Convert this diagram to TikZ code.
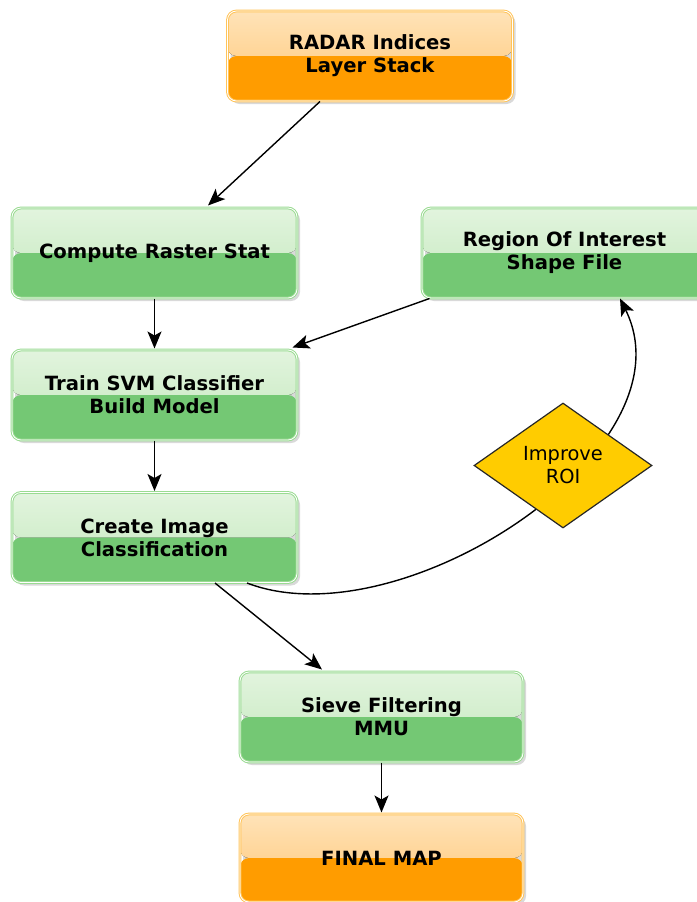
\documentclass[tikz,border=0pt]{standalone}
\usepackage{fontspec}
\setmainfont{DejaVu Sans}
\usetikzlibrary{arrows.meta,shapes.geometric,shadows}
\definecolor{gTopA}{HTML}{E2F4DE}
\definecolor{gTopB}{HTML}{C3E8BC}
\definecolor{gBot}{HTML}{74C874}
\definecolor{gBorder}{HTML}{9ADB92}
\definecolor{oTopA}{HTML}{FFE3B8}
\definecolor{oTopB}{HTML}{FFC674}
\definecolor{oBot}{HTML}{FF9C00}
\definecolor{oBorder}{HTML}{FFC45A}
\definecolor{dFill}{HTML}{FFCC00}
\begin{document}
\begin{tikzpicture}[x=1pt,y=-1pt,
  box/.style={rounded corners=9pt, minimum width=285pt, minimum height=90pt,
    inner sep=0pt, align=center, text=black,
    font=\bfseries\fontsize{19.6}{23}\selectfont,
    line width=1pt, double=white, double distance=0.8pt,
    drop shadow={shadow xshift=3pt, shadow yshift=-3pt, opacity=0.3}},
  gbox/.style={box, draw=gBorder, path picture={
    \fill[top color=gTopA, bottom color=gTopB] (path picture bounding box.north west) rectangle (path picture bounding box.east);
    \fill[gBot] (path picture bounding box.west) rectangle (path picture bounding box.south east);}},
  obox/.style={box, draw=oBorder, path picture={
    \fill[top color=oTopA, bottom color=oTopB] (path picture bounding box.north west) rectangle (path picture bounding box.east);
    \fill[oBot] (path picture bounding box.west) rectangle (path picture bounding box.south east);}},
  dec/.style={diamond, draw=black!85, line width=1.2pt, fill=dFill, inner sep=0pt,
    minimum width=178pt, minimum height=125pt, align=center,
    font=\fontsize{19.4}{23}\selectfont},
  conn/.style={-{Stealth[length=17pt,width=14pt,inset=4pt]}, line width=1.4pt, black}
]
\useasboundingbox (0,0) rectangle (696,902);

\node[obox] (radar) at (370,56) {RADAR Indices\\Layer Stack};
\node[gbox] (compute) at (154.5,253) {Compute Raster Stat};
\node[gbox] (roi) at (564.5,253) {Region Of Interest\\Shape File};
\node[gbox] (train) at (154.5,395) {Train SVM Classifier\\Build Model};
\node[gbox] (create) at (154.5,537.5) {Create Image\\Classification};
\node[gbox, minimum width=283pt] (sieve) at (381.5,717) {Sieve Filtering\\MMU};
\node[obox, minimum width=283pt, minimum height=88pt] (final) at (381.5,858) {FINAL MAP};

\draw[conn] ([xshift=92.5pt]create.south) .. controls (400,642) and (695,450) .. ([xshift=55.5pt]roi.south);
\node[dec] (improve) at (563,465.5) {Improve\\ROI};

\draw[conn] ([xshift=-50pt]radar.south) -- ([xshift=53.5pt,yshift=2pt]compute.north);
\draw[conn] (compute.south) -- ([yshift=1pt]train.north);
\draw[conn] ([xshift=8pt]roi.south west) -- ([xshift=-5pt,yshift=2pt]train.north east);
\draw[conn] (train.south) -- ([yshift=1pt]create.north);
\draw[conn] ([xshift=60.5pt]create.south) -- ([xshift=-59.5pt,yshift=2pt]sieve.north);
\draw[conn] (sieve.south) -- ([yshift=1pt]final.north);
\end{tikzpicture}
\end{document}
